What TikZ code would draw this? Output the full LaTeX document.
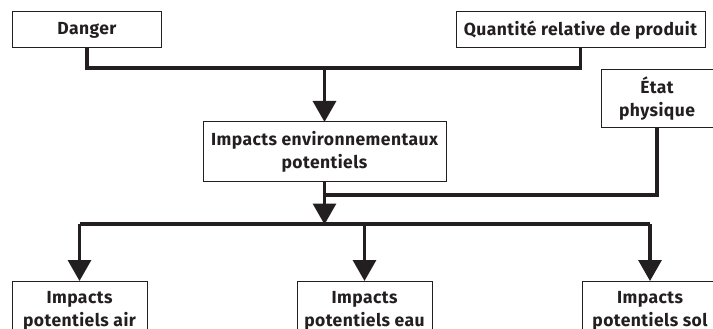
\documentclass[tikz,border=0pt]{standalone}
\usepackage{fontspec}
\setmainfont{Fira Sans}[LetterSpace=2.5]
\usetikzlibrary{arrows.meta}
\definecolor{ink}{HTML}{231F20}
\tikzset{
  box/.style={draw=ink, line width=1pt, fill=white, align=center, inner sep=0pt,
     font=\bfseries\fontsize{17.5}{23}\selectfont, text=ink},
  conn/.style={draw=ink, line width=3.2pt, line join=miter},
  arr/.style={conn, -{Triangle[width=23pt,length=21pt]}, shorten >=-0.5pt},
}
\begin{document}
\begin{tikzpicture}[x=1pt,y=-1pt]
\useasboundingbox (0,0) rectangle (713,329);
\clip (0,0) rectangle (713,329);
\node[box, minimum width=149pt, minimum height=36pt] (danger) at (87,30) {Danger};
\node[box, minimum width=249pt, minimum height=36pt] (quant) at (580.5,30) {Quantité relative de produit};
\node[box, minimum width=243pt, minimum height=59pt] (env) at (324.5,151.5) {Impacts environnementaux\\potentiels};
\node[box, minimum width=112pt, minimum height=58pt] (etat) at (657,99) {État\\physique};
\node[box, minimum width=135pt, minimum height=60pt] (air) at (79.5,311) {Impacts\\potentiels air};
\node[box, minimum width=135pt, minimum height=60pt] (eau) at (364.5,311) {Impacts\\potentiels eau};
\node[box, minimum width=135pt, minimum height=60pt] (sol) at (650,311) {Impacts\\potentiels sol};
\coordinate (j1) at (324.5,68);
\coordinate (j2) at (324.5,195);
\coordinate (j3) at (324.5,224);
\draw[conn] (danger.south) -- (danger.south |- j1) -- (quant.south |- j1) -- (quant.south);
\draw[arr] (j1) -- (env.north);
\draw[conn] (etat.south) -- (etat.south |- j2) -- (j2);
\draw[arr] (env.south) -- (j3);
\draw[conn] (air.north |- j3) -- (sol.north |- j3);
\draw[arr] (air.north |- j3) -- (air.north);
\draw[arr] (eau.north |- j3) -- (eau.north);
\draw[arr] (sol.north |- j3) -- (sol.north);
\end{tikzpicture}
\end{document}
